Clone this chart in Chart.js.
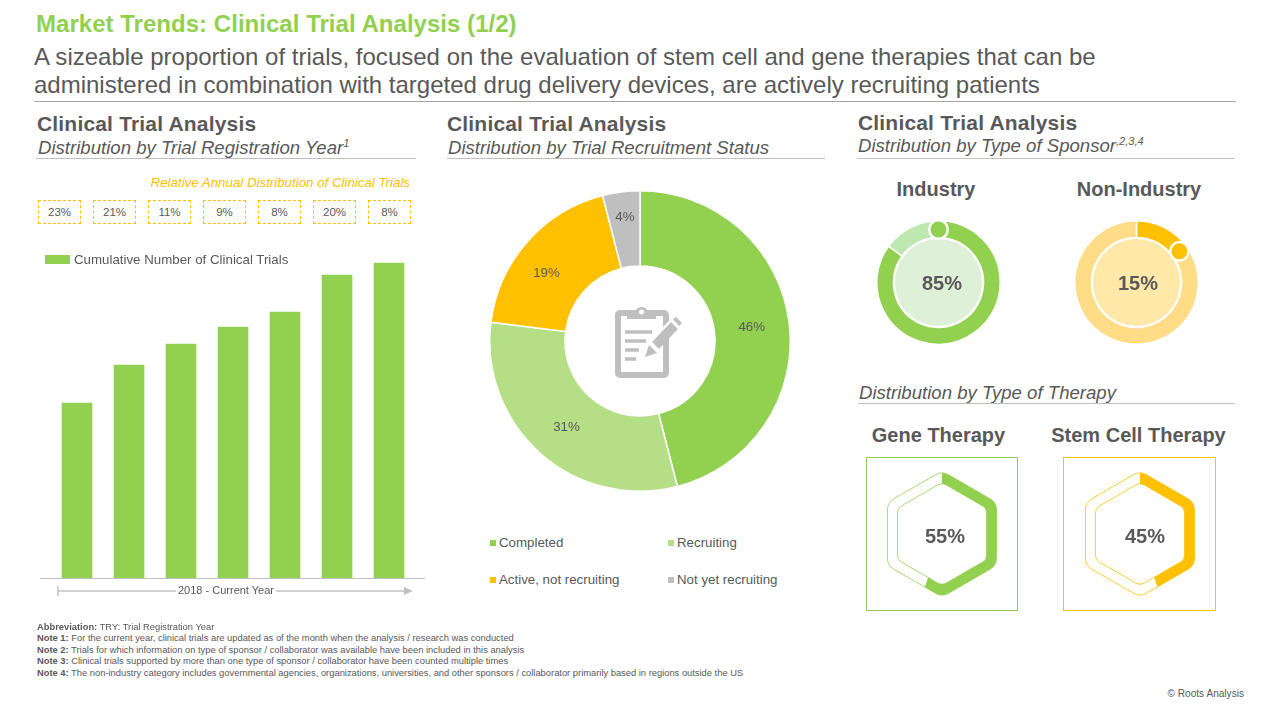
<!DOCTYPE html>
<html><head><meta charset="utf-8">
<script src="https://cdn.jsdelivr.net/npm/chart.js@4"></script>
<style>
html,body{margin:0;padding:0;background:#fff;width:1280px;height:720px;overflow:hidden;font-family:"Liberation Sans",Arial,sans-serif;color:#595959}
.t{position:absolute;white-space:nowrap;line-height:1}
.c{transform:translateX(-50%)}
.h{font-size:20px;font-weight:bold}
.h2{font-size:21px;font-weight:bold;letter-spacing:.18px}
.s{font-size:18.6px;font-style:italic}
.r{position:absolute;height:1px;background:#BFBFBF}
canvas{position:absolute;display:block}
.box{position:absolute;width:41px;height:22px;border:1px dashed #FFC000;font-size:11.5px;text-align:center;line-height:22px}
.lg{position:absolute;width:6px;height:6px}
sup{font-size:11px;line-height:0}
.n{font-size:9.35px;left:37px}
</style></head><body>
<div class="t" style="left:36px;top:12px;font-size:24px;font-weight:bold;letter-spacing:.03px;color:#92D050">Market Trends: Clinical Trial Analysis (1/2)</div>
<div class="t" style="left:34px;top:45px;font-size:24px;letter-spacing:.01px;color:#595959">A sizeable proportion of trials, focused on the evaluation of stem cell and gene therapies that can be</div>
<div class="t" style="left:34px;top:73px;font-size:24px;color:#595959">administered in combination with targeted drug delivery devices, are actively recruiting patients</div>
<div class="r" style="left:34px;width:1202px;top:101px;background:#A6A6A6"></div>

<div class="t h2" style="left:37px;top:113px">Clinical Trial Analysis</div>
<div class="t s" style="left:38px;top:139px">Distribution by Trial Registration Year<sup>1</sup></div>
<div class="r" style="left:36px;width:380px;top:158px"></div>
<div class="t h2" style="left:447px;top:113px">Clinical Trial Analysis</div>
<div class="t s" style="left:448px;top:139px">Distribution by Trial Recruitment Status</div>
<div class="r" style="left:447px;width:378px;top:158px"></div>
<div class="t h2" style="left:858px;top:112px">Clinical Trial Analysis</div>
<div class="t s" style="left:858px;top:137px">Distribution by Type of Sponsor<sup>,2,3,4</sup></div>
<div class="r" style="left:857px;width:378px;top:158px"></div>
<div class="t s" style="left:859px;top:384px">Distribution by Type of Therapy</div>
<div class="r" style="left:858px;width:377px;top:403px"></div>

<div class="t" style="right:870px;top:176px;font-size:13.3px;font-style:italic;color:#FFC000">Relative Annual Distribution of Clinical Trials</div>
<div id="boxes"></div>

<canvas id="bars" width="385" height="334" style="left:40px;top:245px"></canvas>
<div class="r" style="left:40px;width:385px;top:578px"></div>
<div style="position:absolute;left:45px;top:255px;width:25px;height:9px;background:#92D050"></div>
<div class="t" id="barLegend" style="left:74px;top:253px;font-size:13.3px"></div>
<svg style="position:absolute;left:50px;top:580px" width="370" height="22">
<path d="M8 6V16M8 11H126M226 11H354" stroke="#A6A6A6" stroke-width="1" fill="none"/><path d="M354 7L363 11L354 15Z" fill="#BFBFBF"/></svg>
<div class="t c" style="left:226px;top:585px;font-size:11px">2018 - Current Year</div>

<canvas id="status" width="302" height="302" style="left:489px;top:190px"></canvas>
<svg style="position:absolute;left:610px;top:303px" width="76" height="78" viewBox="0 0 76 78">
<rect x="8" y="10" width="48" height="62" rx="2" fill="none" stroke="#BFBFBF" stroke-width="6"/>
<path d="M17 16V10H25C26 2 37 2 38 10H46V16Z" fill="#BFBFBF"/><circle cx="31.5" cy="9" r="2.5" fill="#fff"/>
<path d="M15 29H42M15 38H36M15 47H29M15 56H26" stroke="#BFBFBF" stroke-width="3.5"/>
<path d="M33 56L39 38L63 14L71 22L47 46Z" fill="#fff"/>
<path d="M35 54L39 42L47 50Z" fill="#BFBFBF"/><path d="M42 39L61 19L68 26L49 46Z" fill="#BFBFBF"/><path d="M63 16L66 14L72 20L69 23Z" fill="#BFBFBF"/>
</svg>
<div id="statusLegend"></div>

<div class="t h c" style="left:936px;top:179px">Industry</div>
<div class="t h c" style="left:1139px;top:179px">Non-Industry</div>
<canvas id="ind" width="125" height="125" style="left:875.5px;top:219.5px"></canvas>
<canvas id="non" width="125" height="125" style="left:1073.5px;top:219.5px"></canvas>
<div class="t h c" id="indPct" style="left:942px;top:273px"></div>
<div class="t h c" id="nonPct" style="left:1138px;top:273px"></div>

<div class="t h c" style="left:938.5px;top:425px">Gene Therapy</div>
<div class="t h c" style="left:1138.5px;top:425px">Stem Cell Therapy</div>
<div style="position:absolute;left:866px;top:457px;width:150px;height:152px;border:1px solid #92D050"></div>
<div style="position:absolute;left:1063px;top:457px;width:151px;height:152px;border:1px solid #FFC000"></div>
<canvas id="gene" width="150" height="150" style="left:867px;top:459px"></canvas>
<canvas id="stem" width="150" height="150" style="left:1065px;top:459px"></canvas>
<div class="t h c" id="genePct" style="left:945px;top:526px"></div>
<div class="t h c" id="stemPct" style="left:1145px;top:526px"></div>

<div class="t n" style="top:623px"><b>Abbreviation:</b> TRY: Trial Registration Year</div>
<div class="t n" style="top:634px"><b>Note 1:</b> For the current year, clinical trials are updated as of the month when the analysis / research was conducted</div>
<div class="t n" style="top:646px"><b>Note 2:</b> Trials for which information on type of sponsor / collaborator was available have been included in this analysis</div>
<div class="t n" style="top:657px"><b>Note 3:</b> Clinical trials supported by more than one type of sponsor / collaborator have been counted multiple times</div>
<div class="t n" style="top:669px"><b>Note 4:</b> The non-industry category includes governmental agencies, organizations, universities, and other sponsors / collaborator primarily based in regions outside the US</div>
<div class="t" style="right:36px;top:689px;font-size:10.1px">© Roots Analysis</div>

<script>
const yearCategories = ["2018","2019","2020","2021","2022","2023","2024"];
const cumulativeTrials = [175,213,234,251,266,303,315];
const barSeriesName = "Cumulative Number of Clinical Trials";
const annualShare = ["23%","21%","11%","9%","8%","20%","8%"];
const statusLabels = ["Completed","Recruiting","Active, not recruiting","Not yet recruiting"];
const statusValues = [46,31,19,4];
const statusColors = ["#92D050","#B5DF87","#FFC000","#BFBFBF"];
const sponsorIndustry = [85,15];
const sponsorNonIndustry = [15,85];
const therapyGene = [55,45];
const therapyStem = [45,55];

Chart.defaults.font.family = '"Liberation Sans",Arial,sans-serif';
Chart.defaults.color = '#595959';
Chart.defaults.animation = false;
Chart.defaults.responsive = false;
Chart.defaults.plugins.tooltip.enabled = false;

annualShare.forEach((v,i)=>{
  const d=document.createElement('div');d.className='box';d.textContent=v;
  d.style.left=(38+55*i)+'px';d.style.top='200px';
  document.getElementById('boxes').appendChild(d);
});
document.getElementById('barLegend').textContent=barSeriesName;
const lgPos=[[490,536],[668,536],[490,573],[668,573]];
statusLabels.forEach((l,i)=>{
  const host=document.getElementById('statusLegend');
  const s=document.createElement('div');s.className='lg';s.style.cssText+=`left:${lgPos[i][0]}px;top:${lgPos[i][1]+4}px;background:${statusColors[i]}`;
  const t=document.createElement('div');t.className='t';t.textContent=l;t.style.cssText+=`left:${lgPos[i][0]+9}px;top:${lgPos[i][1]}px;font-size:13.3px`;
  host.append(s,t);
});
document.getElementById('indPct').textContent=sponsorIndustry[0]+'%';
document.getElementById('nonPct').textContent=sponsorNonIndustry[0]+'%';
document.getElementById('genePct').textContent=therapyGene[0]+'%';
document.getElementById('stemPct').textContent=therapyStem[0]+'%';

new Chart(document.getElementById('bars'),{
  type:'bar',
  data:{labels:yearCategories,datasets:[{label:barSeriesName,data:cumulativeTrials,backgroundColor:'#92D050',barThickness:30}]},
  options:{
    layout:{padding:{left:11,right:10,top:0,bottom:1}},
    scales:{x:{display:false},y:{display:false,min:0,max:333}},
    plugins:{legend:{display:false}}
  }
});

const labelShift=[[0,0],[1,2],[-9,7],[-1,-12]];
const arcLabels={id:'arcLabels',afterDatasetsDraw(c){
  const g=c.ctx,m=c.getDatasetMeta(0);
  g.save();g.font='13.3px "Liberation Sans"';g.fillStyle='#595959';g.textAlign='center';g.textBaseline='middle';
  m.data.forEach((a,i)=>{
    const mid=(a.startAngle+a.endAngle)/2;
    const r=(a.innerRadius+a.outerRadius)/2;
    g.fillText(c.data.datasets[0].data[i]+'%',a.x+Math.cos(mid)*r+labelShift[i][0],a.y+Math.sin(mid)*r+labelShift[i][1]);
  });
  g.restore();
}};
new Chart(document.getElementById('status'),{
  type:'doughnut',
  data:{labels:statusLabels,datasets:[{data:statusValues,backgroundColor:statusColors,borderColor:'#fff',borderWidth:1.5}]},
  options:{cutout:75,plugins:{legend:{display:false}}},
  plugins:[arcLabels]
});

function ringChart(id,values,colors,fill,useEnd){
  const deco={id:'deco',
    beforeDatasetsDraw(c){
      const a=c.getDatasetMeta(0).data[0],g=c.ctx;
      g.save();g.fillStyle=fill;g.beginPath();g.arc(a.x,a.y,43.5,0,Math.PI*2);g.fill();g.restore();
    },
    afterDatasetsDraw(c){
      const a=c.getDatasetMeta(0).data[0],g=c.ctx;
      const ang=useEnd?a.endAngle:a.startAngle, r=53;
      const x=a.x+Math.cos(ang)*r,y=a.y+Math.sin(ang)*r;
      g.save();g.fillStyle='#fff';g.beginPath();g.arc(x,y,10.5,0,Math.PI*2);g.fill();
      g.fillStyle=colors[0];g.beginPath();g.arc(x,y,8,0,Math.PI*2);g.fill();g.restore();
    }};
  new Chart(document.getElementById(id),{
    type:'doughnut',
    data:{labels:['Share','Rest'],datasets:[{data:values,backgroundColor:colors,borderColor:'#fff',borderWidth:1.5}]},
    options:{cutout:45,plugins:{legend:{display:false}}},
    plugins:[deco]
  });
}
ringChart('ind',sponsorIndustry,['#92D050','#BDE8B0'],'#DEF1D8',false);
ringChart('non',sponsorNonIndustry,['#FFC000','#FFDC85'],'#FFE8A8',true);

function hexPath(g,cx,cy,R,rad){
  const pts=[];
  for(let i=0;i<6;i++){const t=-Math.PI/2+i*Math.PI/3;pts.push([cx+R*Math.cos(t),cy+R*Math.sin(t)]);}
  const mid=[(pts[0][0]+pts[5][0])/2,(pts[0][1]+pts[5][1])/2];
  g.moveTo(mid[0],mid[1]);
  for(let i=0;i<6;i++){const p=pts[i],q=pts[(i+1)%6];g.arcTo(p[0],p[1],q[0],q[1],rad);}
  g.closePath();
}
function hexChart(id,values,color){
  const hex={id:'hex',
    beforeDatasetsDraw(c){
      const a=c.getDatasetMeta(0).data[0],g=c.ctx;
      g.save();g.beginPath();hexPath(g,a.x,a.y,63,13);hexPath(g,a.x,a.y,51.5,8);g.clip('evenodd');
    },
    afterDatasetsDraw(c){
      const a=c.getDatasetMeta(0).data[0],g=c.ctx;
      g.restore();g.save();g.strokeStyle=color;g.globalAlpha=.8;g.lineWidth=1;
      g.beginPath();hexPath(g,a.x,a.y,63,13);g.stroke();
      g.beginPath();hexPath(g,a.x,a.y,51.5,8);g.stroke();g.restore();
    }};
  new Chart(document.getElementById(id),{
    type:'doughnut',
    data:{labels:['Share','Rest'],datasets:[{data:values,backgroundColor:[color,'#ffffff'],borderWidth:0}]},
    options:{cutout:0,plugins:{legend:{display:false}}},
    plugins:[hex]
  });
}
hexChart('gene',therapyGene,'#92D050');
hexChart('stem',therapyStem,'#FFC000');
</script>
</body></html>
